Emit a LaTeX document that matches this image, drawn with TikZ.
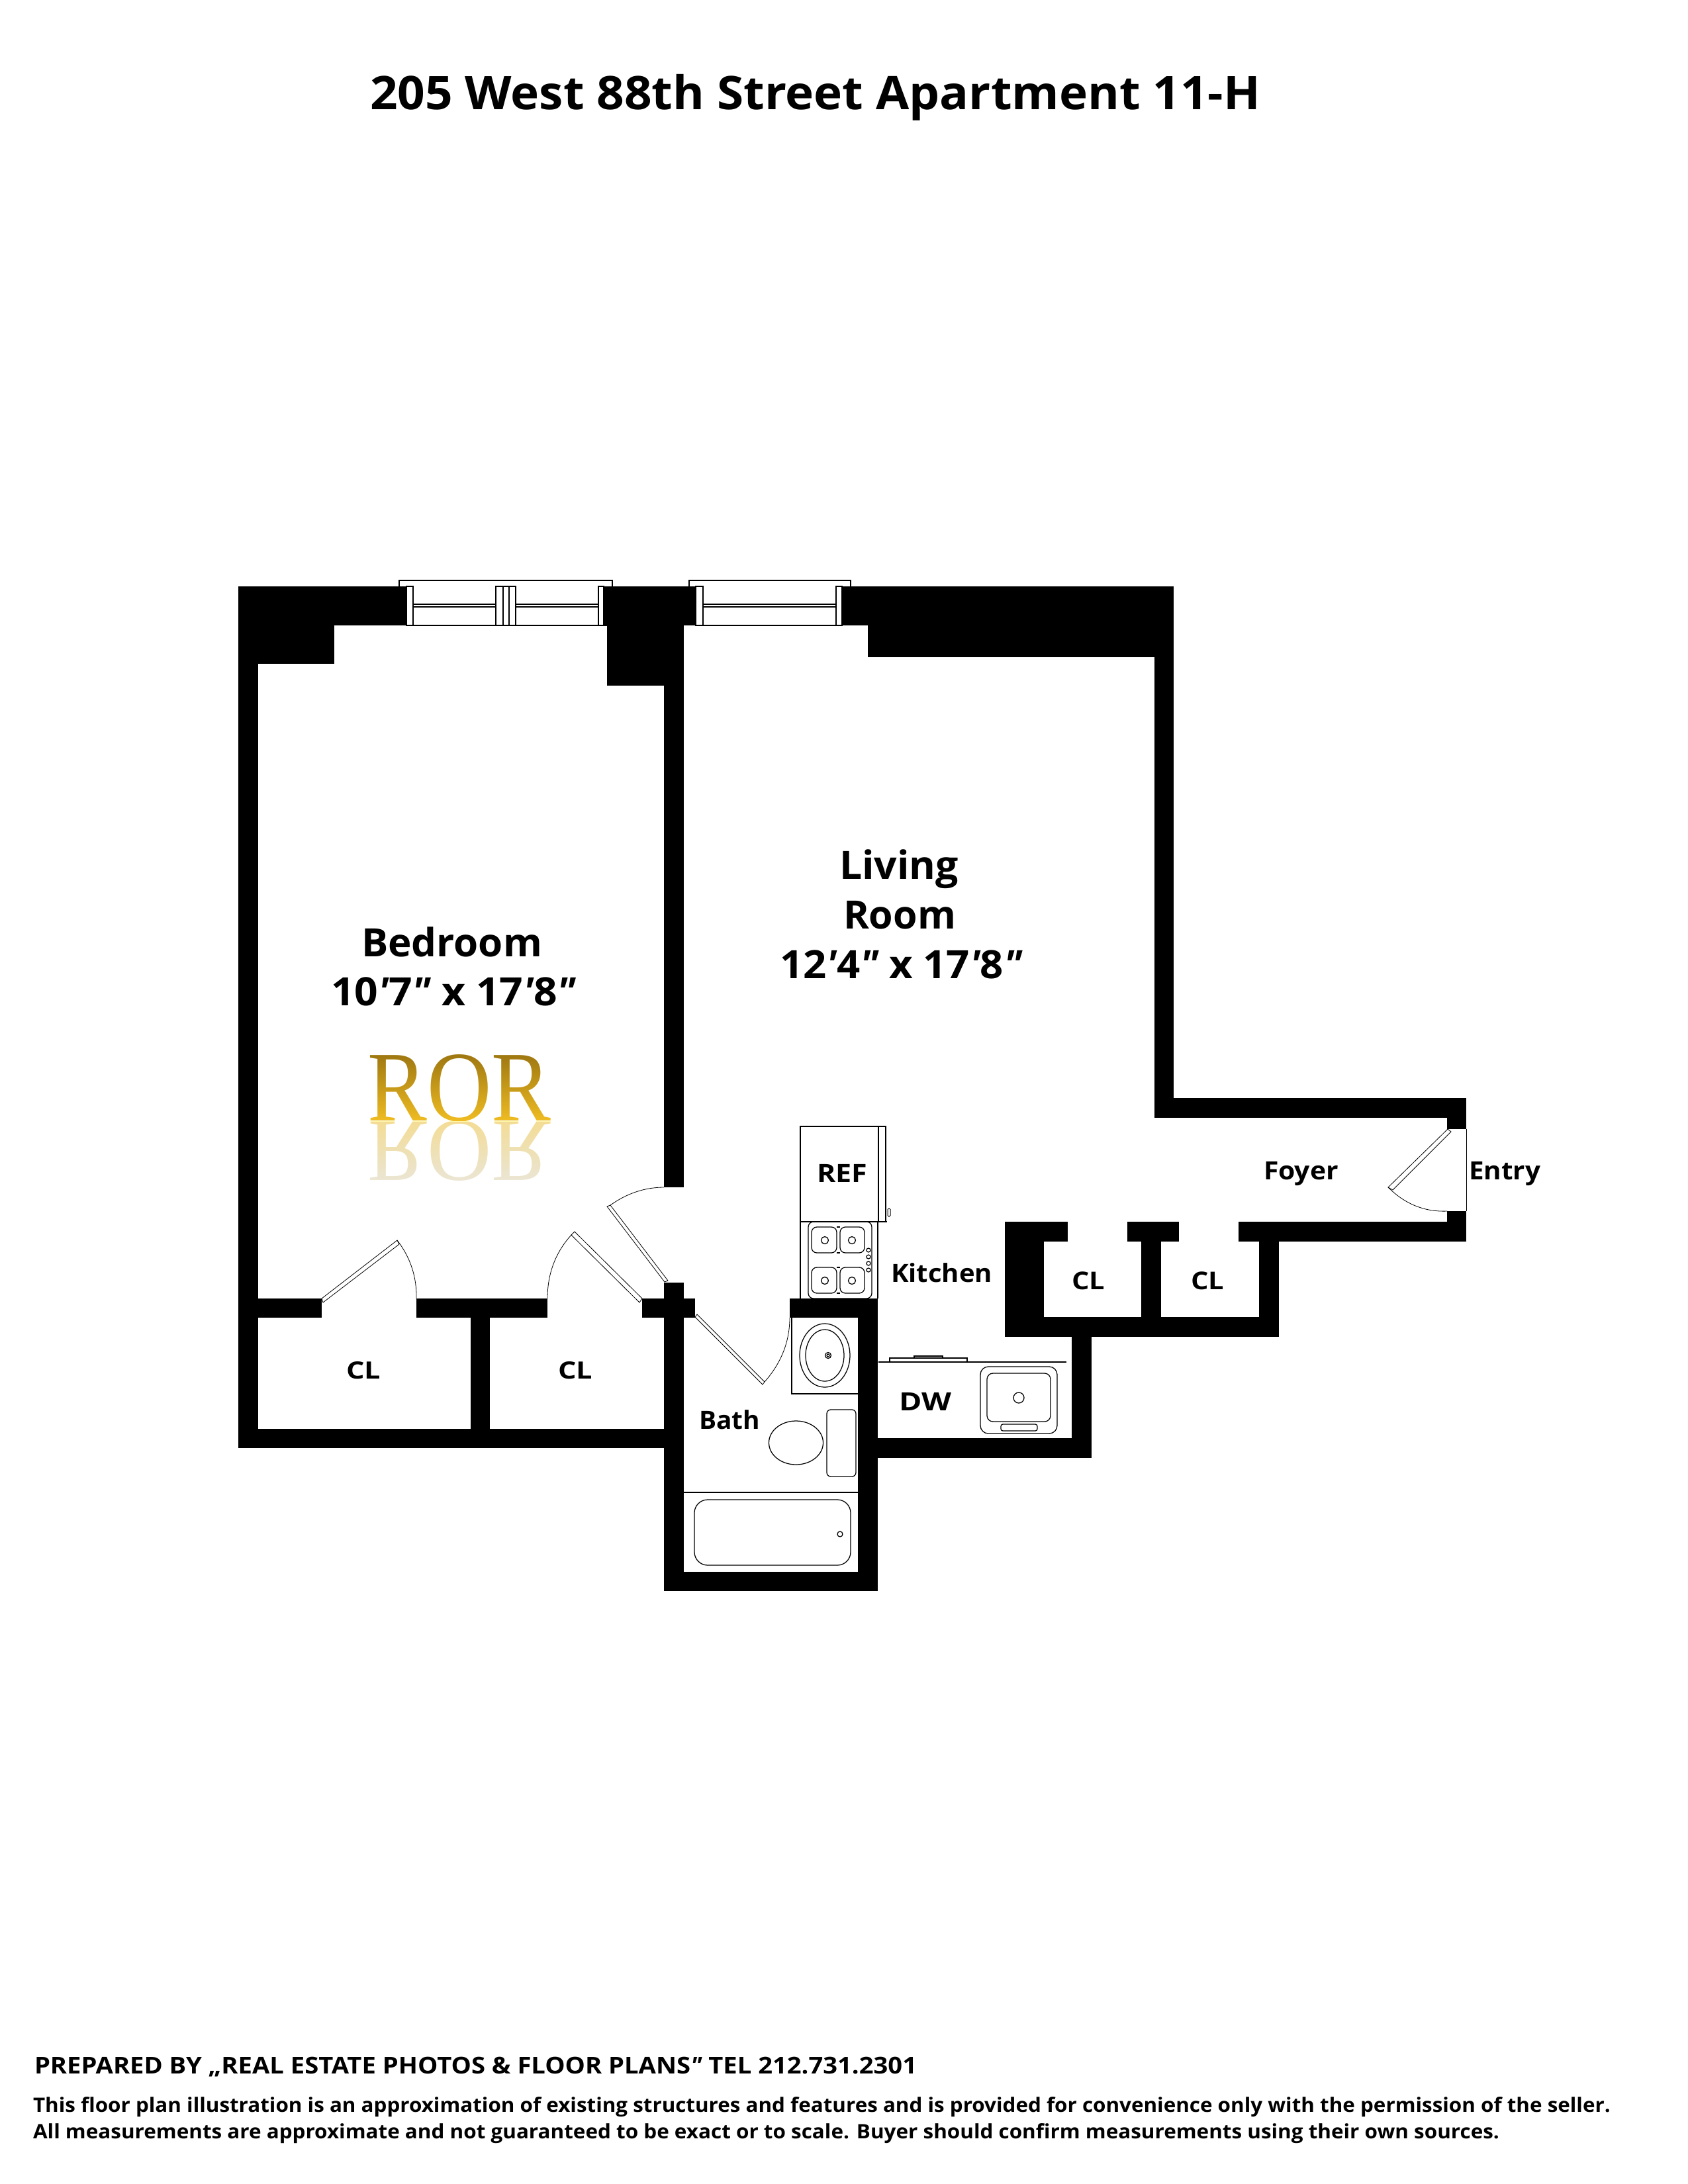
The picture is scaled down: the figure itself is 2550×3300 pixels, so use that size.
\documentclass[tikz,border=0pt]{standalone}
\usepackage{fontspec}
\newfontfamily\plan{Open Sans}
\newfontfamily\rorfont{Liberation Serif}
\usetikzlibrary{calc}
\definecolor{goldtop}{HTML}{9A7410}
\definecolor{goldbot}{HTML}{EFBC22}
\definecolor{refltop}{HTML}{F3DC95}
\definecolor{reflbot}{HTML}{EAE6D8}
\tikzset{
  wall/.style={fill=black,draw=none},
  fixture/.style={draw=black,line width=1.25pt},
  doorline/.style={draw=black,line width=0.8pt},
  labeltext/.style={anchor=base west,inner sep=0pt,outer sep=0pt,font=\plan\bfseries,text=black},
}
\newcommand{\wl}[4]{\fill[wall] (#1,#2) rectangle (#3,#4);}
\newcommand{\lab}[6]{\node[labeltext] (#1) at (#2,#3) {\resizebox{#4pt}{\height}{\fontsize{#5}{#5}\selectfont #6}};}
\newcommand{\swing}[3]{\draw[doorline] (#1) .. controls ($(#1)!0.667!(#2)$) and ($(#3)!0.667!(#2)$) .. (#3);}
\newcommand{\ftm}{{\itshape '}}
\newcommand{\inm}{{\itshape "}}
\begin{document}
\begin{tikzpicture}[x=1pt,y=-1pt]
\useasboundingbox (0,0) rectangle (2550,3300);
\fill[white] (0,0) rectangle (2550,3300);

% walls: bedroom side
\wl{360}{886}{614}{945}
\wl{360}{886}{505}{1003}
\wl{360}{886}{390}{2188}
\wl{912}{886}{1051}{945}
\wl{917}{945}{1033}{1036}
\wl{1003}{1036}{1033}{1794}
% living room top and right
\wl{1272}{886}{1311}{945}
\wl{1311}{886}{1773}{993}
\wl{1744}{886}{1773}{1689}
% foyer
\wl{1744}{1659}{2215}{1689}
\wl{2186}{1659}{2215}{1706}
\wl{2186}{1830}{2215}{1876}
\wl{1871}{1846}{2215}{1876}
% foyer closets
\wl{1902}{1876}{1932}{2020}
\wl{1518}{1846}{1613}{1876}
\wl{1518}{1846}{1577}{2020}
\wl{1518}{1990}{1932}{2020}
\wl{1703}{1846}{1781}{1876}
\wl{1724}{1876}{1754}{1990}
% kitchen
\wl{1619}{2020}{1649}{2203}
\wl{1326}{2173}{1649}{2203}
% bath
\wl{1193}{1962}{1326}{1991}
\wl{1296}{1962}{1326}{2404}
\wl{1003}{2375}{1326}{2404}
\wl{1003}{1938}{1033}{2404}
% bedroom closets
\wl{390}{1962}{486}{1991}
\wl{629}{1962}{827}{1991}
\wl{970}{1962}{1050}{1991}
\wl{711}{1991}{740}{2159}
\wl{360}{2159}{1033}{2188}

% window 1
\draw[fixture] (603,886) -- (603,877) -- (925,877) -- (925,886);
\draw[fixture,fill=white] (614,886) rectangle (624,945);
\draw[fixture,fill=white] (749,886) rectangle (779,945);
\draw[fixture] (760,886) -- (760,945) (769,886) -- (769,945);
\draw[fixture,fill=white] (904,886) rectangle (912,945);
\draw[fixture] (624,913) -- (749,913) (624,917) -- (749,917);
\draw[fixture] (779,913) -- (904,913) (779,917) -- (904,917);
\draw[fixture] (614,945) -- (917,945);
% window 2
\draw[fixture] (1041,886) -- (1041,877) -- (1285,877) -- (1285,886);
\draw[fixture,fill=white] (1051,886) rectangle (1062,945);
\draw[fixture,fill=white] (1263,886) rectangle (1272,945);
\draw[fixture] (1062,913) -- (1263,913) (1062,917) -- (1263,917);
\draw[fixture] (1051,945) -- (1272,945);

% doors
\draw[doorline] (486,1962) -- (488,1968) -- (603,1880) -- (600,1874) -- cycle;
\swing{600,1874}{630,1913}{629,1962}
\draw[doorline] (970,1962) -- (966,1968) -- (863,1866) -- (868,1861) -- cycle;
\swing{863,1866}{827,1906}{827,1962}
\draw[doorline] (1009,1935) -- (1004,1937) -- (917,1823) -- (922,1821) -- cycle;
\swing{922,1821}{960,1794}{1003,1794}
\draw[doorline] (1050,1990) -- (1053,1986) -- (1155,2088) -- (1152,2092) -- cycle;
\swing{1155,2088}{1193,2045}{1193,1991}
\draw[doorline] (2187,1706) -- (2192,1710) -- (2104,1798) -- (2097,1794) -- cycle;
\swing{2097,1794}{2135,1832}{2186,1830}
\draw[doorline] (2215,1706) -- (2215,1830);

% refrigerator and stove
\draw[fixture] (1209,1702) rectangle (1327,1846);
\draw[fixture] (1327,1702) rectangle (1338,1846);
\draw[fixture] (1338,1846) -- (1340,1846);
\draw[fixture,rounded corners=1.5pt,line width=1pt] (1341,1826) rectangle (1345,1838);
\draw[fixture] (1209,1846) -- (1209,1962) (1326,1846) -- (1326,1962);
\draw[fixture,rounded corners=8pt] (1221,1846) rectangle (1317,1962);
\foreach \by in {1854,1915}{
  \draw[fixture,rounded corners=8pt] (1226,\by) -- (1264,\by) -- (1264,\by+39) -- (1226,\by+39) -- cycle;
  \draw[fixture,rounded corners=8pt] (1306,\by) -- (1269,\by) -- (1269,\by+39) -- (1306,\by+39) -- cycle;
  \draw[fixture] (1264,\by) -- (1269,\by) (1264,\by+39) -- (1269,\by+39);
  \draw[fixture] (1246,\by+20) circle [radius=5.5];
  \draw[fixture] (1287,\by+20) circle [radius=5.5];
}
\foreach \ky in {1889,1899,1909,1919}{
  \draw[fixture] (1312,\ky) circle [radius=3];
}
% kitchen counter and sink
\draw[fixture] (1327,2058) -- (1611,2058);
\draw[fixture] (1344,2052) rectangle (1461,2058);
\draw[fixture] (1381,2049) rectangle (1424,2052);
\draw[fixture,rounded corners=12pt] (1481,2065) rectangle (1597,2166);
\draw[fixture,rounded corners=9pt] (1491,2075) rectangle (1587,2148);
\draw[fixture] (1539,2112) ellipse [x radius=8,y radius=8];
\draw[fixture,rounded corners=3pt] (1512,2152) rectangle (1567,2162);

% bathroom fixtures
\draw[fixture] (1196,1991) -- (1196,2106) -- (1296,2106);
\draw[fixture] (1246,2048) ellipse [x radius=38,y radius=48];
\draw[fixture] (1246,2048) ellipse [x radius=29,y radius=39];
\draw[fixture] (1251,2048) circle [radius=4.5];
\draw[fixture] (1251,2048) circle [radius=2];
\draw[fixture] (1202.5,2180) ellipse [x radius=41,y radius=33];
\draw[fixture,rounded corners=6pt] (1249,2130) rectangle (1293,2231);
\draw[fixture] (1033,2255) -- (1296,2255);
\draw[fixture,rounded corners=20pt] (1049,2266) rectangle (1285,2365);
\draw[fixture] (1269,2318) circle [radius=4];

% ROR mark: black letters turned to gold by a screen-blended gradient
\node[anchor=base west,inner sep=0pt,font=\rorfont] (ror) at (555,1693)
  {\resizebox{277pt}{\height}{\fontsize{151}{151}\selectfont ROR}};
\node[anchor=base west,inner sep=0pt,font=\rorfont] (rorrefl) at (555,1694)
  {\scalebox{1}[-0.9]{\resizebox{277pt}{\height}{\fontsize{151}{151}\selectfont ROR}}};
\begin{scope}[blend mode=screen]
  \shade[top color=goldtop,bottom color=goldbot,draw=none,shading angle=0] (545,1588) rectangle (845,1694);
  \shade[top color=refltop,bottom color=reflbot,draw=none,shading angle=0] (545,1694) rectangle (845,1790);
\end{scope}

% labels
\lab{title}{559}{165}{1345}{70}{205 West 88th Street Apartment 11-H}
\lab{bedroom}{546}{1445}{273}{59}{Bedroom}
\lab{beddim}{500}{1519}{370}{59}{10\ftm 7\inm{} x 17\ftm 8\inm}
\lab{living}{1268}{1328}{180}{59}{Living}
\lab{room}{1274}{1403}{170}{59}{Room}
\lab{livdim}{1178}{1478}{366}{59}{12\ftm 4\inm{} x 17\ftm 8\inm}
\lab{clA}{523}{2083}{52}{36}{CL}
\lab{clB}{843}{2083}{52}{36}{CL}
\lab{clC}{1619}{1948}{50}{37}{CL}
\lab{clD}{1799}{1948}{50}{37}{CL}
\lab{bath}{1056}{2159}{92}{38}{Bath}
\lab{ref}{1234}{1786}{76}{38}{REF}
\lab{kitchen}{1346}{1937}{153}{38}{Kitchen}
\lab{dw}{1358}{2131}{79}{38}{DW}
\lab{foyer}{1909}{1782}{113}{38}{Foyer}
\lab{entry}{2219}{1782}{108}{38}{Entry}
\lab{prep}{52}{3133}{1333}{35}{PREPARED BY „REAL ESTATE PHOTOS \& FLOOR PLANS\inm{} TEL 212.731.2301}
\lab{discA}{50}{3191}{2383}{30}{This floor plan illustration is an approximation of existing structures and features and is provided for convenience only with the permission of the seller.}
\lab{discB}{50}{3231}{2215}{30}{All measurements are approximate and not guaranteed to be exact or to scale. Buyer should confirm measurements using their own sources.}
\end{tikzpicture}
\end{document}
